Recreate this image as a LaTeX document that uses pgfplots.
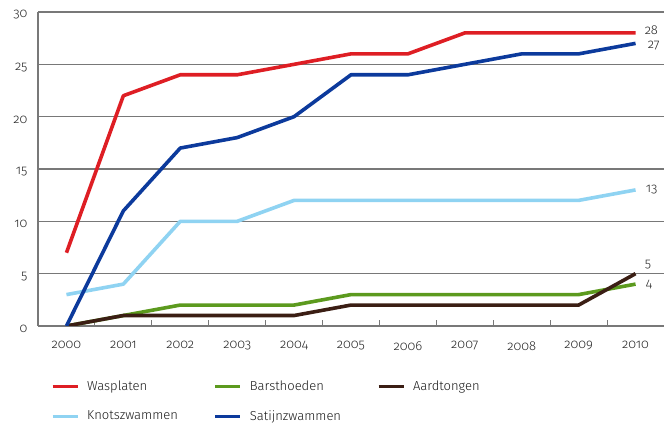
\documentclass[border=0pt]{standalone}
\usepackage{fontspec}
\setmainfont{Fira Sans}[UprightFont=* Light, Numbers=OldStyle]
\usepackage{pgfplots}
\pgfplotsset{compat=1.18}

\definecolor{cRed}{RGB}{222,30,36}
\definecolor{cGreen}{RGB}{92,154,30}
\definecolor{cBrown}{RGB}{59,30,20}
\definecolor{cLight}{RGB}{143,211,242}
\definecolor{cBlue}{RGB}{12,58,156}
\definecolor{cGrid}{RGB}{120,120,120}

\begin{document}
\begin{tikzpicture}
\begin{axis}[
  at={(0pt,0pt)}, anchor=south west,
  scale only axis, width=626pt, height=314pt,
  xmin=-0.5, xmax=10.5, ymin=0, ymax=30,
  xtick={0,...,10},
  xticklabels={2000,2001,2002,2003,2004,2005,2006,2007,2008,2009,2010},
  minor xtick={0.5,1.5,...,9.5},
  ytick={0,5,...,30},
  major tick length=0pt, minor tick length=6pt,
  minor tick style={cGrid, line width=1pt},
  axis x line*=bottom, axis y line*=left,
  axis line style={-, cGrid, line width=1.3pt},
  ymajorgrids, grid style={cGrid, line width=1.3pt},
  tick label style={font=\fontsize{13}{15}\selectfont, text=black!85},
  /pgf/number format/assume math mode=true,
  xticklabel style={yshift=-12pt},
  yticklabel style={xshift=-7pt, yshift=-3pt},
  every axis plot/.append style={line width=3.6pt, line join=round, mark=none},
  legend style={draw=none, fill=none, at={(13pt,-53pt)}, anchor=north west,
    font=\fontsize{13}{15}\selectfont, text=black!90, row sep=14pt, inner sep=0pt,
    /tikz/every odd column/.append style={column sep=6pt},
    /tikz/every even column/.append style={column sep=34pt}},
  legend columns=3,
  legend cell align=left,
  legend image code/.code={\draw[#1, line width=3pt] (0pt,0pt) -- (25pt,0pt);},
]
\addplot[cRed] coordinates {(0,7) (1,22) (2,24) (3,24) (4,25) (5,26) (6,26) (7,28) (8,28) (9,28) (10,28)};
\addlegendentry{Wasplaten}
\addplot[cGreen] coordinates {(0,0) (1,1) (2,2) (3,2) (4,2) (5,3) (6,3) (7,3) (8,3) (9,3) (10,4)};
\addlegendentry{Barsthoeden}
\addplot[cBrown] coordinates {(0,0) (1,1) (2,1) (3,1) (4,1) (5,2) (6,2) (7,2) (8,2) (9,2) (10,5)};
\addlegendentry{Aardtongen}
\addplot[cLight] coordinates {(0,3) (1,4) (2,10) (3,10) (4,12) (5,12) (6,12) (7,12) (8,12) (9,12) (10,13)};
\addlegendentry{Knotszwammen}
\addplot[cBlue] coordinates {(0,0) (1,11) (2,17) (3,18) (4,20) (5,24) (6,24) (7,25) (8,26) (9,26) (10,27)};
\addlegendentry{Satijnzwammen}

\begin{scope}[every node/.style={anchor=west, font=\fontsize{13}{15}\selectfont, text=black!85, inner sep=0pt}]
\node at (axis cs:10,28) [xshift=9pt, yshift=3pt] {28};
\node at (axis cs:10,27) [xshift=12pt, yshift=-2pt] {27};
\node at (axis cs:10,13) [xshift=10pt] {13};
\node at (axis cs:10,5) [xshift=9pt, yshift=9pt] {5};
\node at (axis cs:10,4) [xshift=10pt] {4};
\end{scope}
\end{axis}
\pgfresetboundingbox
\path[use as bounding box] (-38pt,-101pt) rectangle (631pt,326pt);
\end{tikzpicture}
\end{document}
